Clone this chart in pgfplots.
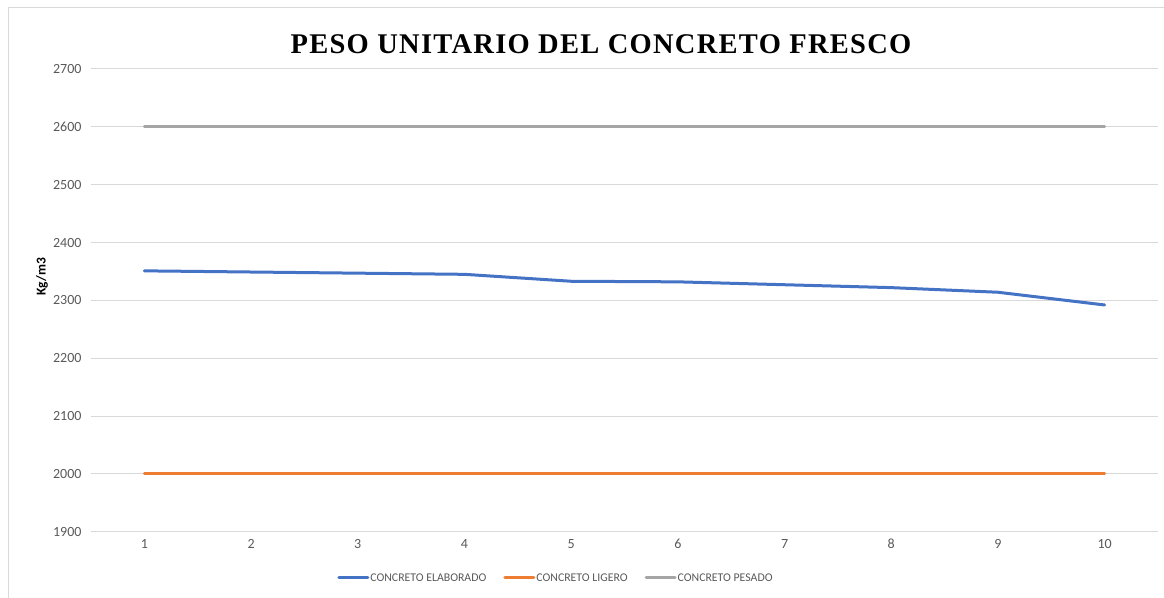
\documentclass[border=0pt]{standalone}
\usepackage{pgfplots}
\pgfplotsset{compat=1.18}
\usepackage{fontspec}
\setmainfont{Carlito}
\newfontfamily\titlefont[LetterSpace=4.5]{Liberation Serif}
\definecolor{cblue}{HTML}{4472C4}
\definecolor{corange}{HTML}{ED7D31}
\definecolor{cgray}{HTML}{A5A5A5}
\definecolor{gridc}{HTML}{D9D9D9}
\definecolor{txt}{HTML}{595959}
\begin{document}
\begin{tikzpicture}[x=1pt,y=1pt]
\useasboundingbox (-91,-65.3) rectangle (1073,531.7);
\draw[gridc, line width=1pt] (-82.5,-70) -- (-82.5,524.2) -- (1080,524.2);
\begin{axis}[
  at={(0,0)}, anchor=south west,
  scale only axis, width=1067pt, height=462.7pt,
  xmin=0.5, xmax=10.5, ymin=1900, ymax=2700,
  xtick={1,...,10}, ytick={1900,2000,...,2700},
  axis line style={draw=none},
  major tick length=0pt,
  ymajorgrids, grid style={gridc, line width=1pt},
  tick label style={font=\fontsize{14}{15}\selectfont, text=txt},
  yticklabel style={xshift=-6pt},
  xticklabel style={yshift=-4pt},
  /pgf/number format/assume math mode=true,
  scaled y ticks=false,
  yticklabel={\pgfmathprintnumber[fixed,1000 sep={}]{\tick}},
  legend columns=3,
  legend style={draw=none, fill=none, at={(0.4353,-0.1)}, anchor=center,
    font=\fontsize{11.8}{13}\selectfont, text=txt,
    /tikz/every even column/.append style={column sep=16pt},
    inner sep=0pt, nodes={inner sep=1pt}},
  legend image code/.code={\draw[#1, line width=3pt] (0pt,0pt) -- (29pt,0pt);},
  clip=false,
]
\addplot[cblue, line width=3pt, line join=round, line cap=round] coordinates {
(1,2351) (2,2349) (3,2347) (4,2345) (5,2333) (6,2332) (7,2327) (8,2322) (9,2314) (10,2292)};
\addlegendentry{CONCRETO ELABORADO}
\addplot[corange, line width=3pt, line cap=round] coordinates {
(1,2000) (2,2000) (3,2000) (4,2000) (5,2000) (6,2000) (7,2000) (8,2000) (9,2000) (10,2000)};
\addlegendentry{CONCRETO LIGERO}
\addplot[cgray, line width=3pt, line cap=round] coordinates {
(1,2600) (2,2600) (3,2600) (4,2600) (5,2600) (6,2600) (7,2600) (8,2600) (9,2600) (10,2600)};
\addlegendentry{CONCRETO PESADO}
\end{axis}
\node at (510,487.2) {\titlefont\bfseries\fontsize{28.5}{30}\selectfont PESO UNITARIO DEL CONCRETO FRESCO};
\node[rotate=90] at (-49,254.7) {\bfseries\fontsize{13.5}{14}\selectfont Kg/m3};
\end{tikzpicture}
\end{document}
